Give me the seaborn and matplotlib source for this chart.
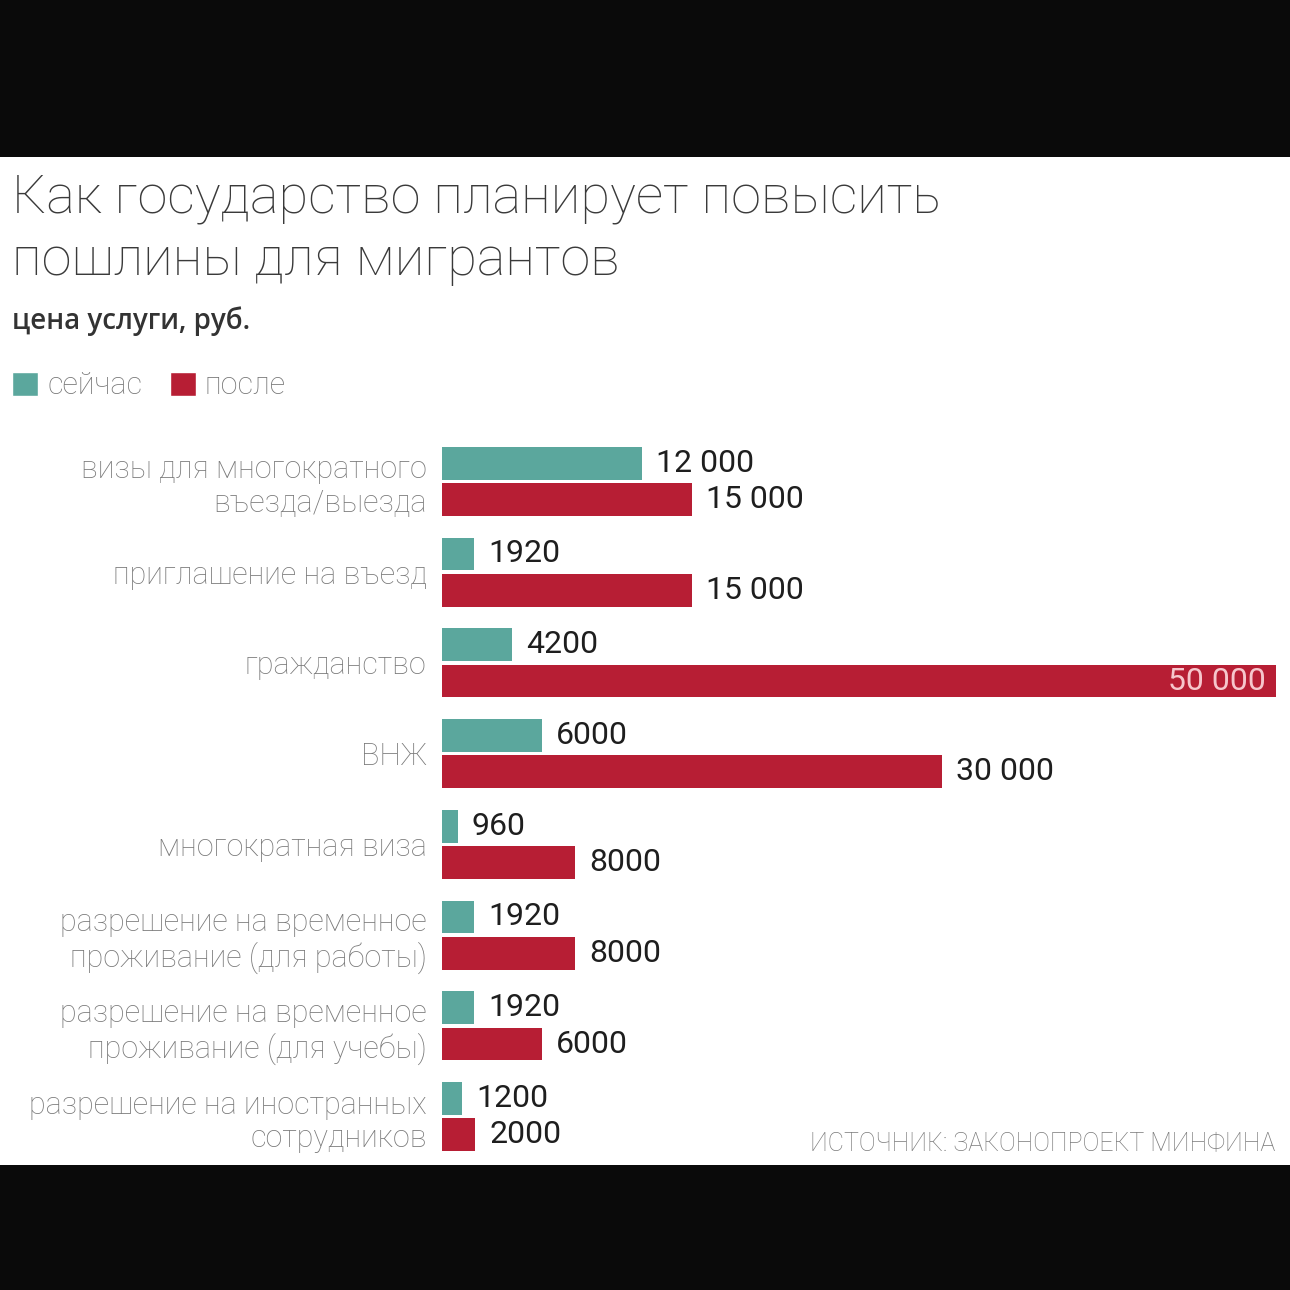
import pandas as pd
import matplotlib
matplotlib.use("Agg")
import matplotlib.pyplot as plt
from matplotlib.patches import Rectangle, Patch
import seaborn as sns

# Data
categories = [
    "визы для многократного\nвъезда/выезда",
    "приглашение на въезд",
    "гражданство",
    "ВНЖ",
    "многократная виза",
    "разрешение на временное\nпроживание (для работы)",
    "разрешение на временное\nпроживание (для учебы)",
    "разрешение на иностранных\nсотрудников",
]
now_values = [12000, 1920, 4200, 6000, 960, 1920, 1920, 1200]
after_values = [15000, 15000, 50000, 30000, 8000, 8000, 6000, 2000]
series_names = ["сейчас", "после"]

title = "Как государство планирует повысить\nпошлины для мигрантов"
subtitle = "цена услуги, руб."
source = "ИСТОЧНИК: ЗАКОНОПРОЕКТ МИНФИНА"

TEAL = "#5ba79d"
RED = "#b71e34"

df = pd.DataFrame({
    "category": categories * 2,
    "value": now_values + after_values,
    "series": [series_names[0]] * len(categories) + [series_names[1]] * len(categories),
})

sns.set_style("white")
plt.rcParams["font.family"] = ["Roboto", "DejaVu Sans"]

W = H = 1290
fig = plt.figure(figsize=(12.9, 12.9), dpi=100, facecolor="#0a0a0a")
# white panel between the black bands
fig.patches.append(Rectangle((0, (H - 1165) / H), 1, (1165 - 157) / H,
                             transform=fig.transFigure, facecolor="white",
                             edgecolor="none", zorder=-10))

ax = fig.add_axes([442 / W, 1 - 1162 / H, (1276 - 442) / W, (1162 - 436) / H])
ax.set_facecolor("none")

sns.barplot(data=df, y="category", x="value", hue="series", order=categories,
            hue_order=series_names, palette=[TEAL, RED], orient="h",
            width=0.8, gap=0.1, ax=ax, legend=False, errorbar=None,
            saturation=1, linewidth=0)

ax.set_xlim(0, 50000)
ax.set_ylim(len(categories) - 0.5, -0.5)
ax.set_xlabel("")
ax.set_ylabel("")
ax.set_xticks([])
ax.tick_params(axis="y", length=0, pad=11)
for s in ax.spines.values():
    s.set_visible(False)
for lab in ax.get_yticklabels():
    lab.set_fontsize(22)
    lab.set_color("#7a7a7a")
    lab.set_fontweight("light")
    lab.set_linespacing(1.2)

def fmt(v):
    return f"{v:,}".replace(",", " ") if v >= 10000 else str(v)

xmax = ax.get_xlim()[1]
for cont, vals in zip(ax.containers, [now_values, after_values]):
    labels = [fmt(v) if v < xmax * 0.95 else "" for v in vals]
    ax.bar_label(cont, labels=labels, padding=10, fontsize=23, color="#1e1e1e")
    for bar, v in zip(cont, vals):
        if v >= xmax * 0.95:
            ax.text(bar.get_width() - 600, bar.get_y() + bar.get_height() / 2,
                    fmt(v), ha="right", va="center", fontsize=23,
                    color="#f6c6cc")

fig.text(12 / W, 1 - 172 / H, title, ha="left", va="top", fontsize=39,
         fontweight="light", color="#3a3a3a", linespacing=1.28)
fig.text(12 / W, 1 - 329 / H, subtitle, ha="left", va="baseline", fontsize=20,
         fontweight="semibold", color="#333333", family=["Open Sans", "DejaVu Sans"])

handles = [Patch(facecolor=TEAL), Patch(facecolor=RED)]
fig.legend(handles, series_names, loc="center left",
           bbox_to_anchor=(12 / W, 1 - 386 / H), ncol=2, frameon=False,
           handlelength=0.85, handleheight=0.85, borderpad=0, borderaxespad=0,
           handletextpad=0.3, columnspacing=0.9,
           labelcolor="#777777", prop={"weight": "light", "size": 22})

fig.text(1275 / W, 1 - 1151 / H, source, ha="right", va="baseline",
         fontsize=18, color="#7a7a7a", fontweight="light")

fig.savefig("out.png", dpi=100, facecolor=fig.get_facecolor())
